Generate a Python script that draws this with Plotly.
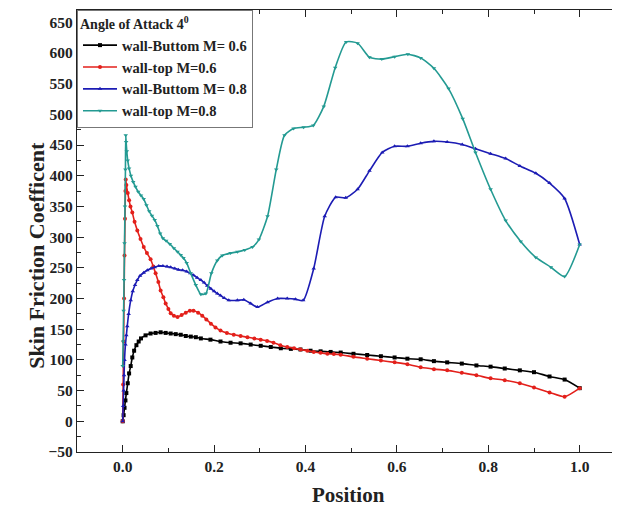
import plotly.graph_objects as go

# ---- data ----
black_x = [0.000, 0.002, 0.004, 0.006, 0.008, 0.011, 0.014, 0.0175, 0.021, 0.025, 0.030, 0.035, 0.040, 0.050, 0.061, 0.072, 0.083, 0.094, 0.105, 0.116, 0.127, 0.138, 0.149, 0.160, 0.171, 0.192, 0.214, 0.236, 0.258, 0.280, 0.302, 0.324, 0.346, 0.368, 0.389, 0.411, 0.433, 0.455, 0.477, 0.505, 0.535, 0.565, 0.595, 0.623, 0.652, 0.681, 0.710, 0.742, 0.774, 0.805, 0.836, 0.869, 0.900, 0.934, 0.967, 1.000]
black_y = [0, 10, 22, 34, 46, 62, 78, 90, 104, 115, 124, 130, 135, 140, 143, 144, 145, 144, 143, 142, 141, 139, 138, 137, 135, 133, 130, 128, 127, 125, 123, 121, 119, 118, 117, 115, 114, 113, 112, 110, 108, 106, 104, 102, 101, 98, 96, 94, 91, 89, 86, 83, 80, 73, 68, 54]

red_x = [0.000, 0.001, 0.002, 0.003, 0.004, 0.005, 0.006, 0.0066, 0.008, 0.011, 0.014, 0.017, 0.021, 0.026, 0.032, 0.039, 0.046, 0.053, 0.061, 0.067, 0.072, 0.078, 0.083, 0.089, 0.094, 0.100, 0.105, 0.112, 0.120, 0.129, 0.138, 0.147, 0.155, 0.165, 0.174, 0.183, 0.193, 0.203, 0.214, 0.228, 0.243, 0.258, 0.273, 0.288, 0.302, 0.316, 0.330, 0.345, 0.360, 0.375, 0.389, 0.404, 0.418, 0.433, 0.448, 0.462, 0.477, 0.505, 0.535, 0.565, 0.595, 0.623, 0.652, 0.681, 0.710, 0.742, 0.774, 0.805, 0.836, 0.869, 0.900, 0.934, 0.967, 1.000]
red_y = [0, 60, 130, 200, 270, 330, 375, 394, 385, 372, 360, 350, 340, 325, 311, 297, 284, 274, 264, 252, 241, 227, 213, 202, 192, 183, 176, 172, 170, 173, 177, 180, 180, 177, 172, 166, 159, 153, 148, 144, 141, 139, 137, 135, 133, 131, 128, 124, 121, 119, 117, 115, 113, 111.5, 110, 109.5, 108.5, 105, 102, 99, 96, 93, 88, 85, 83, 79, 75, 70, 67, 62, 55, 47, 40, 54]

blue_x = [0.000, 0.001, 0.002, 0.003, 0.004, 0.006, 0.008, 0.010, 0.013, 0.0175, 0.022, 0.027, 0.032, 0.038, 0.046, 0.054, 0.062, 0.070, 0.079, 0.088, 0.097, 0.105, 0.114, 0.122, 0.131, 0.140, 0.148, 0.155, 0.163, 0.171, 0.178, 0.185, 0.193, 0.200, 0.207, 0.214, 0.222, 0.232, 0.251, 0.265, 0.280, 0.295, 0.317, 0.339, 0.360, 0.378, 0.395, 0.418, 0.442, 0.466, 0.488, 0.514, 0.540, 0.568, 0.595, 0.623, 0.652, 0.681, 0.710, 0.743, 0.772, 0.805, 0.838, 0.869, 0.904, 0.934, 0.967, 1.000]
blue_y = [0, 25, 50, 75, 100, 125, 140, 155, 175, 197, 212, 222, 230, 237, 242, 246, 249, 251, 253, 253, 252, 251, 249, 247, 246, 244, 241, 238, 234, 230, 226, 221, 216, 212, 208, 205, 201, 197, 197, 198, 192, 186, 194, 200, 200, 199, 197, 249, 334, 365, 364, 378, 408, 438, 448, 448, 453, 456, 455, 451, 444, 436, 428, 416, 404, 388, 363, 288]

teal_x = [0.000, 0.001, 0.002, 0.003, 0.004, 0.005, 0.006, 0.0066, 0.0075, 0.009, 0.011, 0.014, 0.018, 0.023, 0.028, 0.034, 0.040, 0.046, 0.052, 0.058, 0.064, 0.070, 0.076, 0.082, 0.088, 0.095, 0.103, 0.112, 0.120, 0.127, 0.133, 0.140, 0.149, 0.160, 0.171, 0.182, 0.194, 0.207, 0.218, 0.236, 0.251, 0.267, 0.284, 0.298, 0.317, 0.336, 0.354, 0.374, 0.396, 0.417, 0.440, 0.465, 0.489, 0.514, 0.540, 0.567, 0.595, 0.624, 0.652, 0.681, 0.713, 0.744, 0.772, 0.805, 0.838, 0.871, 0.904, 0.937, 0.967, 1.000]
teal_y = [90, 130, 180, 230, 290, 350, 410, 466, 455, 440, 425, 412, 400, 390, 382, 374, 368, 362, 352, 342, 335, 328, 318, 306, 298, 294, 289, 282, 276, 271, 266, 258, 241, 222, 207, 208, 241, 262, 270, 274, 276, 279, 284, 296, 334, 410, 466, 477, 479, 482, 513, 576, 618, 616, 593, 590, 594, 598, 592, 575, 542, 493, 438, 378, 327, 293, 267, 251, 236, 288]

names = ["wall-Buttom M= 0.6", "wall-top M=0.6", "wall-Buttom M= 0.8", "wall-top M=0.8"]
colors = ["#000000", "#e3201b", "#1c1cb4", "#239a92"]
symbols = ["square", "circle", "triangle-up", "triangle-down"]
xs = [black_x, red_x, blue_x, teal_x]
ys = [black_y, red_y, blue_y, teal_y]

x_title = "Position"
y_title = "Skin Friction Coefficent"

SERIF = "Liberation Serif"
INK = "#222"

fig = go.Figure()
for x, y, n, c, s in zip(xs, ys, names, colors, symbols):
    fig.add_trace(go.Scatter(
        x=x, y=y, name=n, mode="lines+markers",
        line=dict(color=c, width=1.6, shape="spline", smoothing=0.6),
        marker=dict(color=c, symbol=s, size=4),
    ))

axis_common = dict(
    showline=True, linecolor=INK, linewidth=1.3, mirror="ticks",
    ticks="inside", ticklen=7, tickwidth=1.3, tickcolor=INK,
    showgrid=False, zeroline=False, automargin=False,
    tickfont=dict(family=SERIF, size=15.5, color=INK, weight="bold"),
)

# page body adds an 8px margin, so the figure is 612x502 to fill the 620x510 window
fig.update_layout(
    width=612, height=502,
    margin=dict(l=69, r=1, t=2, b=58),
    paper_bgcolor="white", plot_bgcolor="white",
    xaxis=dict(range=[-0.1, 1.086], dtick=0.2, tick0=0, tickformat=".1f",
               minor=dict(ticks="inside", ticklen=4, dtick=0.1, tick0=0, tickcolor=INK),
               **axis_common),
    yaxis=dict(range=[-50, 670], dtick=50, tick0=0,
               minor=dict(ticks="inside", ticklen=4, dtick=25, tick0=0, tickcolor=INK),
               **axis_common),
    legend=dict(
        x=0, y=1, xanchor="left", yanchor="top",
        bgcolor="white", bordercolor="#777", borderwidth=1,
        font=dict(family=SERIF, size=14.5, color=INK, weight="bold"),
        title=dict(text="Angle of Attack 4<sup>0</sup>", font=dict(family=SERIF, size=14, color=INK, weight="bold")),
        tracegroupgap=0, itemwidth=34,
    ),
    annotations=[
        dict(text=x_title, xref="paper", yref="paper", x=0.5, y=-0.097,
             xanchor="center", yanchor="middle",
             showarrow=False, font=dict(family=SERIF, size=21, color=INK, weight="bold")),
        dict(text=y_title, xref="paper", yref="paper", x=-0.074, y=0.446, textangle=-90,
             xanchor="center", yanchor="middle",
             showarrow=False, font=dict(family=SERIF, size=22, color=INK, weight="bold")),
    ],
    showlegend=True,
)

fig.write_html("out.html")
